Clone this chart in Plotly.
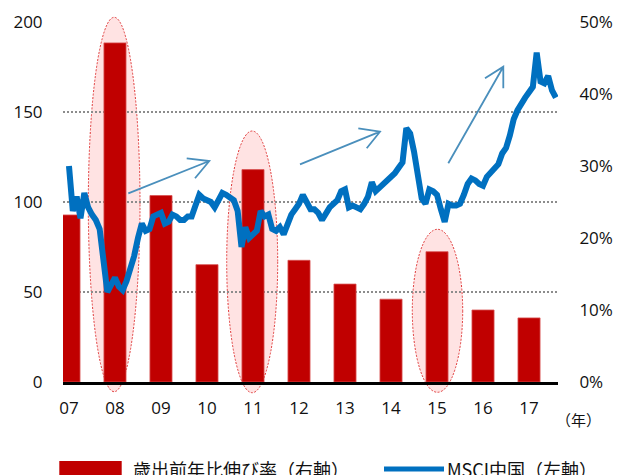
import plotly.graph_objects as go

# ---------------- data ----------------
years = ["07", "08", "09", "10", "11", "12", "13", "14", "15", "16", "17"]
spending_growth = [23.2, 47.1, 25.9, 16.3, 29.5, 16.9, 13.6, 11.5, 18.1, 10.0, 8.9]  # % (right axis)
right_ticks = [0, 10, 20, 30, 40, 50]
right_ticktext = ["0%", "10%", "20%", "30%", "40%", "50%"]
left_ticks = [0, 50, 100, 150, 200]

# MSCI China, monthly from Jan 2007 (left axis)
msci_china = [
    120, 95, 103, 91, 105, 97, 93, 90, 85, 68, 50, 54,
    58, 53, 51, 56, 62, 70, 80, 88, 84, 85, 92, 93,
    94, 88, 89, 93, 92, 90, 90, 92, 92, 98, 104, 102,
    101, 100, 97, 102, 105, 104, 102, 101, 95, 75, 86, 80,
    82, 84, 95, 92, 93, 85, 84, 86, 82, 88, 93, 96,
    99, 104, 100, 96, 96, 94, 90, 94, 97, 99, 101, 106,
    107, 97, 98, 97, 96, 99, 103, 111, 106, 108, 110, 111,
    113, 116, 119, 122, 141, 138, 128, 115, 102, 99, 107, 106,
    104, 96, 89, 99, 98, 98, 99, 104, 110, 113, 112, 110,
    109, 114, 116, 118, 121, 127, 130, 137, 146, 151, 155, 158,
    161, 164, 183, 167, 166, 170, 162, 158,
]

bar_name = "歳出前年比伸び率（右軸）"
line_name = "MSCI中国（左軸）"
year_unit = "（年）"

FONT = "Noto Sans CJK JP, Noto Sans, sans-serif"
NUMFONT = "Open Sans, Noto Sans CJK JP, sans-serif"
RED = "#C00000"
BLUE = "#0070C0"
ARROW = "#4A8FBC"
TXT = "#111111"

W, H = 618, 475
L, R, T, B = 63, 558, 22, 382


def px2x(px):
    return (px - L) / (R - L)


def py2y(py):
    return (B - py) / (B - T)


bar_x = list(range(len(years)))
line_x = [i / 12 for i in range(len(msci_china))]

fig = go.Figure()
fig.add_trace(go.Bar(
    x=bar_x, y=spending_growth, name=bar_name, width=0.48,
    marker=dict(color=RED, line=dict(color="#D85050", width=0.8)),
    yaxis="y", showlegend=False, hoverinfo="skip",
))
fig.add_trace(go.Scatter(
    x=line_x, y=msci_china, name=line_name, mode="lines",
    line=dict(color=BLUE, width=6),
    yaxis="y2", showlegend=False, hoverinfo="skip",
))

shapes = []
# highlight ellipses
for (x0, x1, y0, y1) in [(88.3, 140, 17.3, 391.7), (226.7, 277.7, 131, 392.7), (412.3, 462.7, 229.3, 392.3)]:
    shapes.append(dict(
        type="circle", xref="paper", yref="paper",
        x0=px2x(x0), x1=px2x(x1), y0=py2y(y1), y1=py2y(y0),
        fillcolor="#FFE3E3", line=dict(color="#E03A3A", width=1, dash="2px,1.5px"),
        layer="below",
    ))

# arrows (tail, head, arm1, arm2) in pixel positions
arrows = [
    ((128.3, 193.3), (209.3, 161.0), (186.7, 158.3), (195.0, 178.3)),
    ((300.0, 164.3), (380.0, 131.7), (358.3, 128.3), (366.7, 148.3)),
    ((448.3, 163.3), (503.3, 66.7), (485.0, 78.3), (503.3, 88.3)),
]
for tail, head, a1, a2 in arrows:
    def p(pt):
        return f"{px2x(pt[0]):.5f},{py2y(pt[1]):.5f}"
    path = f"M{p(tail)} L{p(head)} M{p(a1)} L{p(head)} L{p(a2)}"
    shapes.append(dict(type="path", xref="paper", yref="paper", path=path,
                       line=dict(color=ARROW, width=1.8), layer="above"))

# manual legend symbols
shapes.append(dict(type="rect", xref="paper", yref="paper",
                   x0=px2x(59.3), x1=px2x(121.7), y0=py2y(490), y1=py2y(461),
                   fillcolor=RED, line=dict(width=0)))
shapes.append(dict(type="line", xref="paper", yref="paper",
                   x0=px2x(384), x1=px2x(444), y0=py2y(469), y1=py2y(469),
                   line=dict(color=BLUE, width=5)))

annotations = [
    dict(text=bar_name, xref="paper", yref="paper", x=px2x(131), y=py2y(469),
         xanchor="left", yanchor="middle", showarrow=False,
         font=dict(family=FONT, size=18, color=TXT)),
    dict(text=line_name, xref="paper", yref="paper", x=px2x(445), y=py2y(469),
         xanchor="left", yanchor="middle", showarrow=False,
         font=dict(family=FONT, size=18, color=TXT)),
    dict(text=year_unit, xref="paper", yref="paper", x=px2x(578), y=py2y(419),
         xanchor="center", yanchor="middle", showarrow=False,
         font=dict(family=FONT, size=15, color=TXT)),
]

fig.update_layout(
    width=W, height=H,
    margin=dict(l=L, r=W - R, t=T, b=H - B, pad=0, autoexpand=False),
    paper_bgcolor="white", plot_bgcolor="white",
    font=dict(family=FONT, size=16, color=TXT),
    shapes=shapes, annotations=annotations,
    xaxis=dict(
        range=[-0.13, 10.63], tickmode="array", tickvals=bar_x, ticktext=years,
        showgrid=False, zeroline=False, showline=True, linecolor="black", linewidth=3,
        ticks="outside", ticklen=9, tickcolor="rgba(0,0,0,0)", automargin=False,
        tickfont=dict(size=17, family=NUMFONT, color=TXT),
    ),
    yaxis=dict(
        side="right", range=[0, 50], tickmode="array", tickvals=right_ticks,
        ticktext=right_ticktext, showgrid=False, zeroline=False, showline=False,
        ticks="outside", ticklen=17, tickcolor="rgba(0,0,0,0)", automargin=False,
        tickfont=dict(size=17, family=NUMFONT, color=TXT),
    ),
    yaxis2=dict(
        overlaying="y", side="left", range=[0, 200], tickmode="array",
        tickvals=left_ticks,
        showgrid=True, gridcolor="#8C8C8C", gridwidth=2, griddash="2px,2px",
        zeroline=False, showline=False, automargin=False,
        ticks="outside", ticklen=16, tickcolor="rgba(0,0,0,0)",
        tickfont=dict(size=17, family=NUMFONT, color=TXT),
    ),
)

fig.write_html("out.html", config={"displayModeBar": False},
               post_script="document.body.style.margin='0';")
